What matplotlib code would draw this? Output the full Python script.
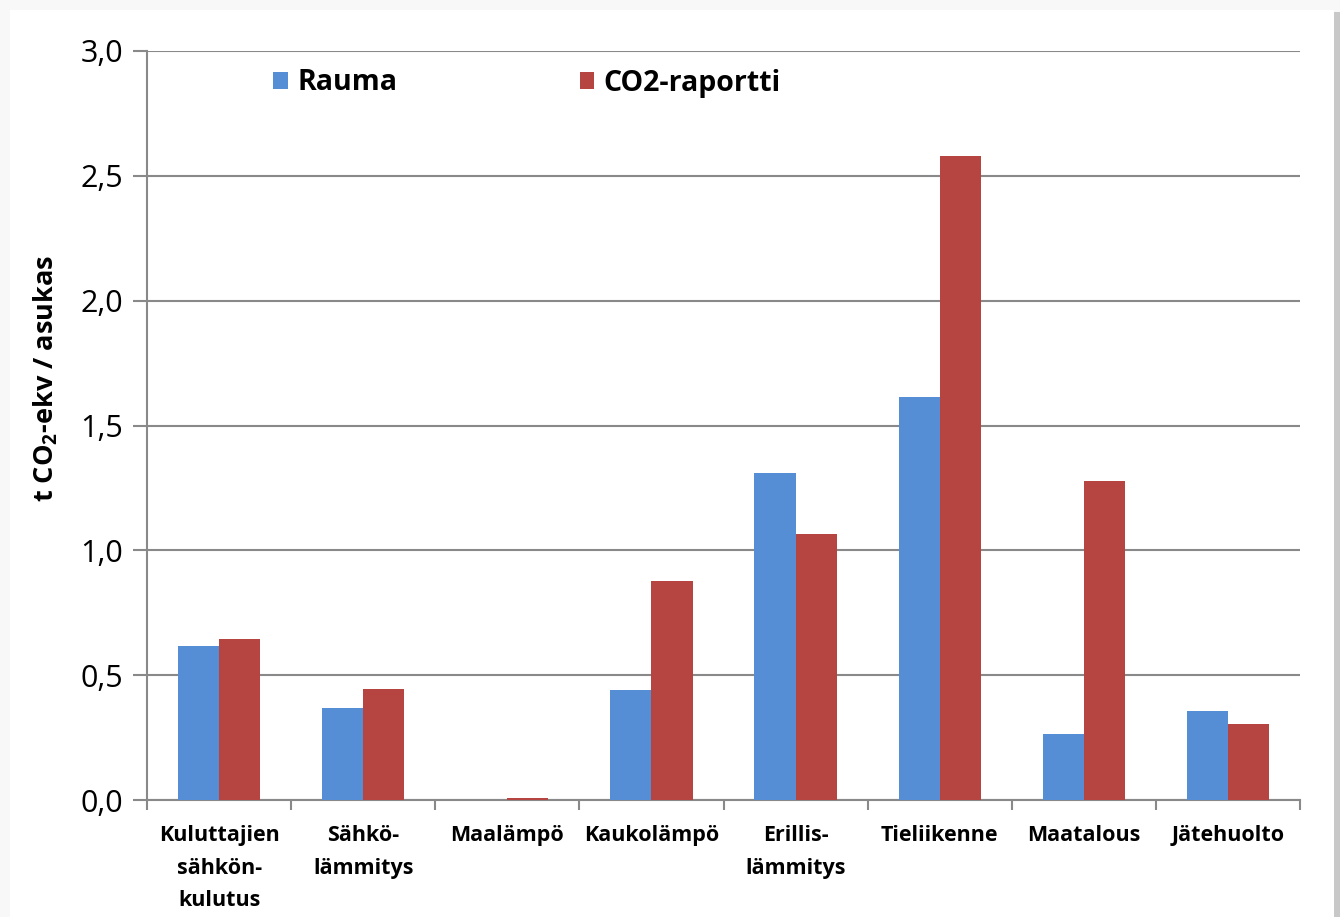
import matplotlib
matplotlib.use("Agg")
import matplotlib.pyplot as plt
import numpy as np
from matplotlib.patches import Rectangle, Patch

plt.rcParams['font.family'] = ['Open Sans', 'DejaVu Sans']
plt.rcParams['mathtext.fontset'] = 'custom'
plt.rcParams['mathtext.bf'] = 'Open Sans:bold'
plt.rcParams['mathtext.rm'] = 'Open Sans:bold'
plt.rcParams['mathtext.default'] = 'bf'

categories = ["Kuluttajien\nsähkön-\nkulutus", "Sähkö-\nlämmitys", "Maalämpö",
              "Kaukolämpö", "Erillis-\nlämmitys", "Tieliikenne", "Maatalous", "Jätehuolto"]
rauma = [0.615, 0.37, 0.0, 0.44, 1.31, 1.615, 0.265, 0.357]
co2_raportti = [0.643, 0.445, 0.01, 0.877, 1.066, 2.58, 1.276, 0.304]
series_names = ["Rauma", "CO2-raportti"]
yticks = [0.0, 0.5, 1.0, 1.5, 2.0, 2.5, 3.0]
ytick_labels = ["0,0", "0,5", "1,0", "1,5", "2,0", "2,5", "3,0"]

blue = "#558ED5"
red = "#B64441"
grid_c = "#898989"

W, H = 1340, 917
fig = plt.figure(figsize=(W / 100, H / 100), dpi=100, facecolor="#F8F8F8")

# chart area panel with a soft shadow on the right
fig.add_artist(Rectangle((1334 / W, 0), 6 / W, 1 - 12 / H, transform=fig.transFigure,
                         facecolor="#C8C8C8", edgecolor="none", zorder=0))
fig.add_artist(Rectangle((10 / W, 0), 1324 / W, 1 - 10 / H, transform=fig.transFigure,
                         facecolor="white", edgecolor="none", zorder=0))

ax = fig.add_axes([147 / W, 1 - 800 / H, (1300 - 147) / W, (800 - 51) / H])
ax.set_facecolor("none")

x = np.arange(len(categories))
bw = 1 / 3.5
ax.bar(x - bw / 2, rauma, bw, color=blue, zorder=3)
ax.bar(x + bw / 2, co2_raportti, bw, color=red, zorder=3)

ax.set_xlim(-0.5, len(categories) - 0.5)
ax.set_ylim(0, 3.0)
ax.set_yticks(yticks)
ax.set_yticklabels(ytick_labels, fontsize=22)
ax.yaxis.grid(True, color=grid_c, linewidth=1.5, zorder=0)
ax.set_axisbelow(True)

# category labels at centres, tick marks at boundaries
ax.set_xticks(np.arange(len(categories) + 1) - 0.5)
ax.set_xticklabels([])
ax.set_xticks(x, minor=True)
ax.set_xticklabels(categories, minor=True, fontsize=15.5, fontweight="bold",
                   linespacing=1.72, va="top")
ax.tick_params(axis="x", which="minor", length=0, pad=18)
ax.tick_params(axis="x", which="major", length=7, width=1.5, color=grid_c, direction="out")
ax.tick_params(axis="y", length=10, width=1.5, color=grid_c, pad=7)

for s in ["top", "right"]:
    ax.spines[s].set_visible(False)
for s in ["left", "bottom"]:
    ax.spines[s].set_color(grid_c)
    ax.spines[s].set_linewidth(1.5)

fig.text(46 / W, 1 - 378 / H, r"t CO$_2$-ekv / asukas", rotation=90, fontsize=19.5,
         fontweight="bold", ha="center", va="center")

handles = [Patch(facecolor=blue, label=series_names[0]),
           Patch(facecolor=red, label=series_names[1])]
ax.legend(handles=handles, ncol=2, loc="center left", bbox_to_anchor=(115 / 1153, 717 / 749),
          frameon=False, prop={"weight": "bold", "size": 20.5},
          handlelength=0.52, handleheight=0.52, handletextpad=0.32, columnspacing=6.4,
          borderaxespad=0)

fig.savefig("out.png", dpi=100, facecolor=fig.get_facecolor())
